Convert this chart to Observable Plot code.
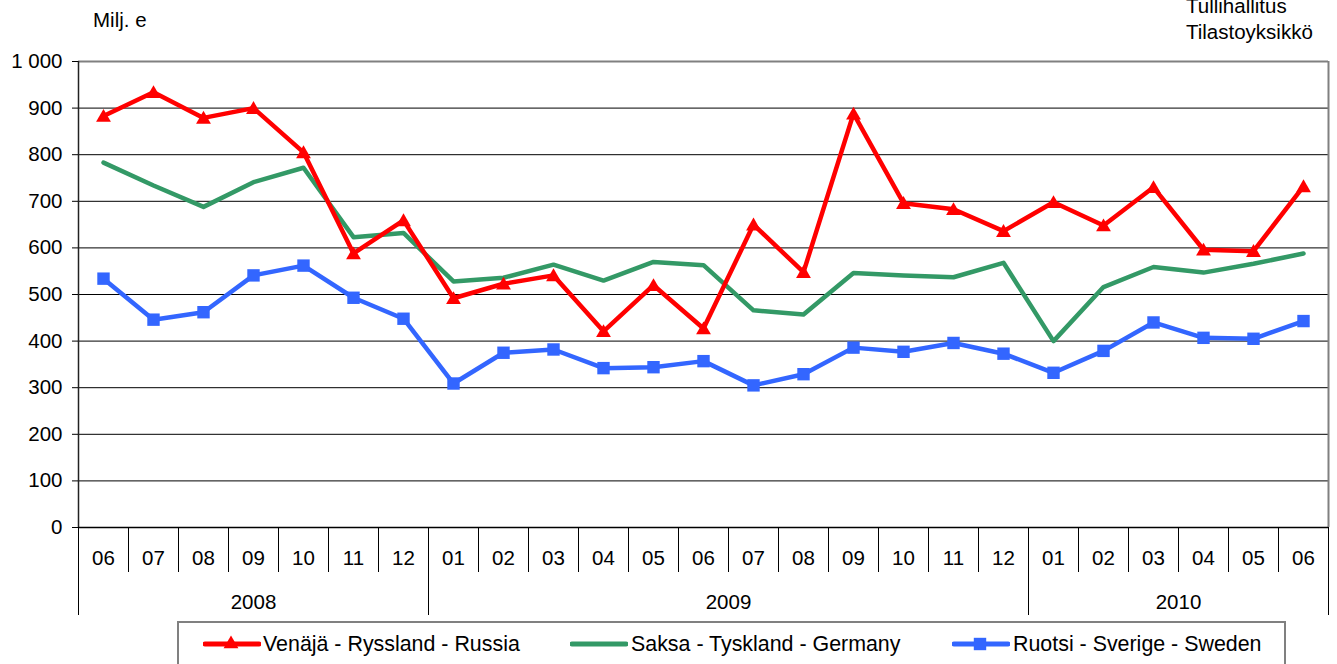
<!DOCTYPE html>
<html><head><meta charset="utf-8">
<script src="https://cdn.jsdelivr.net/npm/d3@7"></script>
<script src="https://cdn.jsdelivr.net/npm/@observablehq/plot@0.6"></script>
<style>
body{margin:0;background:#fff;font-family:"Liberation Sans",Arial,sans-serif;}
#wrap{position:relative;width:1337px;height:664px;overflow:hidden;background:#fff;}
#wrap svg.plot{position:absolute;left:0;top:0;}
.t{position:absolute;font-size:20.5px;line-height:20.5px;white-space:nowrap;color:#000;}
.t.lg{font-size:21.4px;line-height:21.4px;}
#legend{position:absolute;left:177px;top:621px;width:1109px;height:60px;border:2px solid #808080;box-sizing:border-box;}
.sample{position:absolute;}
</style></head>
<body><div id="wrap"></div>
<script>
// ---- data ----
const months = ["06","07","08","09","10","11","12","01","02","03","04","05","06","07","08","09","10","11","12","01","02","03","04","05","06"];
const yearLabels = ["2008","2009","2010"];
const yearCounts = [7, 12, 6];
const yTicks = [0,100,200,300,400,500,600,700,800,900,1000];
const yTickLabels = ["0","100","200","300","400","500","600","700","800","900","1 000"];
const seriesNames = ["Venäjä - Ryssland - Russia","Saksa - Tyskland - Germany","Ruotsi - Sverige - Sweden"];
const seriesColors = ["#FF0000","#339966","#3366FF"];
const seriesSymbols = ["triangle", null, "square"];
const russia  = [883,934,879,900,805,588,659,492,523,541,421,520,427,650,548,888,696,683,636,698,648,730,596,593,732];
const germany = [783,734,688,741,772,623,632,528,536,564,530,570,563,466,457,546,541,537,568,400,516,559,547,566,588];
const sweden  = [534,446,462,541,562,493,448,309,375,382,342,344,357,305,329,386,377,396,373,332,379,440,407,405,443];
const topLeftText = "Milj. e";
const topRightLines = ["Tullihallitus","Tilastoyksikkö"];

// ---- derived ----
const rowsOf = (arr) => arr.map((v, i) => ({i, v}));
const monthIdx = d3.range(months.length);
const monthBounds = d3.range(months.length + 1).map(i => i - 0.5);
const yearBounds = [-0.5];
yearCounts.forEach(c => yearBounds.push(yearBounds[yearBounds.length - 1] + c));
const yearCenters = yearLabels.map((_, k) => (yearBounds[k] + yearBounds[k + 1]) / 2);

const chart = Plot.plot({
  width: 1337, height: 664,
  marginTop: 61, marginBottom: 137, marginLeft: 78, marginRight: 9,
  style: {fontFamily: '"Liberation Sans", Arial, sans-serif', fontSize: "20.5px", color: "#000", background: "transparent"},
  x: {type: "linear", domain: [-0.5, months.length - 0.5], axis: null},
  y: {domain: [0, 1000], axis: null},
  marks: [
    Plot.ruleY(yTicks.filter(d => d > 0 && d < 1000), {stroke: "#000", strokeWidth: 1}),
    Plot.ruleY([1000], {stroke: "#808080", strokeWidth: 2}),
    Plot.ruleX([months.length - 0.5], {stroke: "#808080", strokeWidth: 2}),
    Plot.ruleX([-0.5], {stroke: "#222", strokeWidth: 1.5}),
    Plot.ruleY([0], {stroke: "#000", strokeWidth: 1.5}),
    Plot.axisY(yTicks, {anchor: "left", tickSize: 6, tickPadding: 10, label: null, fontSize: 20.5,
      tickFormat: d => yTickLabels[yTicks.indexOf(d)]}),
    Plot.axisX(monthBounds, {anchor: "bottom", tickSize: 45, tickFormat: () => "", label: null}),
    Plot.axisX(yearBounds, {anchor: "bottom", tickSize: 88, tickFormat: () => "", label: null}),
    Plot.axisX(monthIdx, {anchor: "bottom", tickSize: 0, tickPadding: 23, label: null, fontSize: 20.5,
      tickFormat: i => months[i]}),
    Plot.axisX(yearCenters, {anchor: "bottom", tickSize: 0, tickPadding: 67, label: null, fontSize: 20.5,
      tickFormat: d => yearLabels[yearCenters.indexOf(d)]}),
    Plot.line(rowsOf(germany), {x: "i", y: "v", stroke: seriesColors[1], strokeWidth: 4.5}),
    Plot.line(rowsOf(sweden), {x: "i", y: "v", stroke: seriesColors[2], strokeWidth: 4.5}),
    Plot.dot(rowsOf(sweden), {x: "i", y: "v", symbol: "square", r: 7, fill: seriesColors[2], stroke: "none"}),
    Plot.line(rowsOf(russia), {x: "i", y: "v", stroke: seriesColors[0], strokeWidth: 4.5}),
    Plot.dot(rowsOf(russia), {x: "i", y: "v", symbol: "triangle", r: 5.5, fill: seriesColors[0], stroke: "none", dy: 1.5})
  ]
});
chart.classList.add("plot");
const wrap = document.getElementById("wrap");
wrap.appendChild(chart);

function addText(txt, left, top, cls) {
  const d = document.createElement("div");
  d.className = "t" + (cls ? " " + cls : ""); d.textContent = txt;
  d.style.left = left + "px"; d.style.top = top + "px";
  wrap.appendChild(d); return d;
}
addText(topLeftText, 93, 9.5);
addText(topRightLines[0], 1186, -4);
addText(topRightLines[1], 1186, 21.5);

// legend
const lg = document.createElement("div"); lg.id = "legend"; wrap.appendChild(lg);
const sampleX = [203, 570, 952];
const textX = [263, 631, 1013];
seriesNames.forEach((name, k) => {
  const svg = d3.create("svg").attr("class", "sample").attr("width", 58).attr("height", 20)
    .style("left", sampleX[k] + "px").style("top", "634px");
  svg.append("line").attr("x1", 2).attr("x2", 56).attr("y1", 10).attr("y2", 10)
    .attr("stroke", seriesColors[k]).attr("stroke-width", 5).attr("stroke-linecap", "round");
  if (seriesSymbols[k]) {
    const sym = seriesSymbols[k] === "triangle" ? d3.symbolTriangle : d3.symbolSquare;
    const r = seriesSymbols[k] === "triangle" ? 5.5 : 7;
    svg.append("path").attr("d", d3.symbol(sym, Math.PI * r * r)())
      .attr("transform", "translate(28,10)").attr("fill", seriesColors[k]);
  }
  wrap.appendChild(svg.node());
  addText(name, textX[k], 634, "lg");
});
</script></body></html>
